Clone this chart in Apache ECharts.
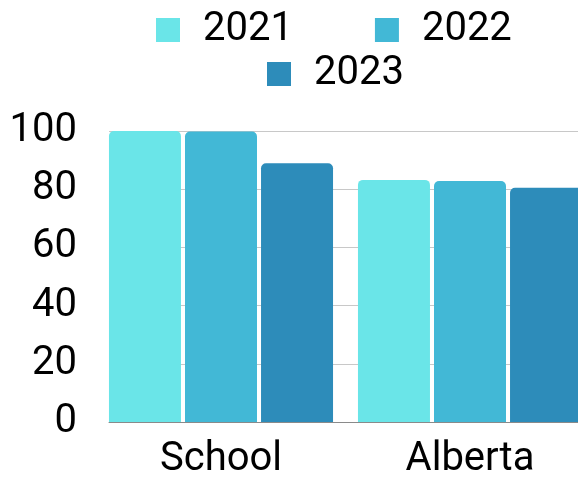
<!DOCTYPE html>
<html>
<head>
<meta charset="utf-8">
<script src="https://cdn.jsdelivr.net/npm/echarts@6/dist/echarts.min.js"></script>
<style>
html,body{margin:0;padding:0;background:#fff;}
#chart{width:578px;height:478px;}
</style>
</head>
<body>
<div id="chart"></div>
<script>
const categories = ['School', 'Alberta'];
const seriesNames = ['2021', '2022', '2023'];
const values2021 = [100, 83.2];
const values2022 = [99.8, 82.8];
const values2023 = [88.9, 80.5];
const yTicks = [0, 20, 40, 60, 80, 100];
const colors = ['#6ae5e8', '#42b8d6', '#2d8cba'];

const FONT = 'Roboto';
const chart = echarts.init(document.getElementById('chart'), null, {renderer: 'canvas'});
const seriesData = [values2021, values2022, values2023];

const option = {
  animation: false,
  textStyle: {fontFamily: FONT},
  legend: [
    {
      data: [seriesNames[0], seriesNames[1]],
      left: 156, top: 10,
      itemWidth: 24, itemHeight: 24, itemGap: 82,
      icon: 'rect',
      padding: 0,
      textStyle: {fontFamily: FONT, fontSize: 40, color: '#000', padding: [0, 0, 0, 18]}
    },
    {
      data: [seriesNames[2]],
      left: 267, top: 54,
      itemWidth: 24, itemHeight: 24,
      icon: 'rect',
      padding: 0,
      textStyle: {fontFamily: FONT, fontSize: 40, color: '#000', padding: [0, 0, 0, 18]}
    }
  ],
  grid: [
    {left: 96.5, width: 498, top: 131, bottom: 56, containLabel: false, outerBoundsMode: 'none'},
    {left: 109, right: -40, top: 131, bottom: 56, containLabel: false, outerBoundsMode: 'none'}
  ],
  xAxis: [
    {
      type: 'category', gridIndex: 0, data: categories,
      axisLine: {show: false}, axisTick: {show: false},
      axisLabel: {fontFamily: FONT, fontSize: 40, color: '#000', margin: 18}
    },
    {
      type: 'value', gridIndex: 1, min: 0, max: 1,
      axisLine: {show: true, lineStyle: {color: '#8a8a8a', width: 1}},
      axisTick: {show: false}, axisLabel: {show: false}, splitLine: {show: false}
    }
  ],
  yAxis: [
    {type: 'value', gridIndex: 0, min: 0, max: 100, interval: 20, show: false},
    {
      type: 'value', gridIndex: 1, min: yTicks[0], max: yTicks[yTicks.length - 1], interval: 20,
      axisLine: {show: false}, axisTick: {show: false},
      axisLabel: {fontFamily: FONT, fontSize: 40, color: '#000', margin: 32},
      splitLine: {show: true, lineStyle: {color: '#c8c8c8', width: 1}}
    }
  ],
  series: seriesNames.map((name, i) => ({
    name: name,
    type: 'bar',
    xAxisIndex: 0, yAxisIndex: 0,
    data: seriesData[i],
    barWidth: 72,
    barGap: '5.6%',
    itemStyle: {color: colors[i], borderRadius: [5, 5, 0, 0]}
  }))
};
chart.setOption(option);
</script>
</body>
</html>
